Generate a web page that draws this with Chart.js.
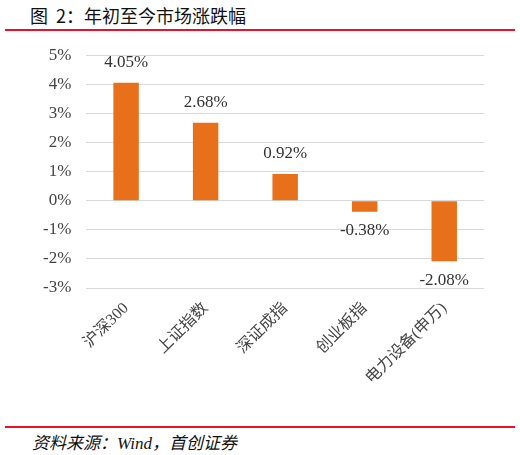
<!DOCTYPE html>
<html lang="zh">
<head>
  <meta charset="UTF-8">
  <title>年初至今市场涨跌幅</title>
  <script src="https://cdn.jsdelivr.net/npm/chart.js@4.4.1/dist/chart.umd.min.js"></script>
  <style>
    html, body { margin: 0; padding: 0; background: #fff; }
    body { width: 520px; height: 455px; position: relative; overflow: hidden; }
    #title { position: absolute; left: 30px; top: 2px; font: 18px "Noto Sans CJK SC", sans-serif; color: #111; white-space: pre; }
    .rule { position: absolute; left: 5px; width: 510px; height: 2px; background: #e8102a; }
    #src { position: absolute; left: 32px; top: 429px; font: italic 17px "Liberation Serif", "Noto Sans CJK SC", serif; color: #111; }
    #wrap { position: absolute; left: 0; top: 30px; width: 520px; height: 390px; }
  </style>
</head>
<body>
  <div id="title">图  2：年初至今市场涨跌幅</div>
  <div class="rule" style="top:29px"></div>
  <div id="wrap"><canvas id="c"></canvas></div>
  <div class="rule" style="top:426px"></div>
  <div id="src">资料来源：Wind，首创证券</div>
  <script>
    const categories = ['沪深300', '上证指数', '深证成指', '创业板指', '电力设备(申万)'];
    const changes = [4.05, 2.68, 0.92, -0.38, -2.08];
    const yTicks = [5, 4, 3, 2, 1, 0, -1, -2, -3];

    const serif = '"Liberation Serif", "Noto Sans CJK SC", serif';

    // value labels above / below each bar
    const valueLabels = {
      id: 'valueLabels',
      afterDatasetsDraw(chart) {
        const ctx = chart.ctx;
        const meta = chart.getDatasetMeta(0);
        ctx.save();
        ctx.font = '17px ' + serif;
        ctx.fillStyle = '#333';
        ctx.textAlign = 'center';
        ctx.textBaseline = 'middle';
        meta.data.forEach((bar, i) => {
          const v = changes[i];
          const y = v >= 0 ? bar.y - 20 : bar.y + 19;
          ctx.fillText(v.toFixed(2) + '%', bar.x, y);
        });
        ctx.restore();
      }
    };

    new Chart(document.getElementById('c'), {
      type: 'bar',
      data: {
        labels: categories,
        datasets: [{
          data: changes,
          backgroundColor: '#e8701a',
          barPercentage: 0.32,
          categoryPercentage: 1
        }]
      },
      options: {
        responsive: true,
        maintainAspectRatio: false,
        animation: false,
        layout: { padding: { left: 28, right: 36, top: 4, bottom: 29 } },
        plugins: { legend: { display: false }, tooltip: { enabled: false } },
        scales: {
          x: {
            grid: { display: false },
            border: { display: false },
            ticks: {
              minRotation: 45, maxRotation: 45,
              color: '#444',
              font: { family: serif, size: 16 }
            }
          },
          y: {
            min: -3, max: 5,
            afterBuildTicks(axis) { axis.ticks = yTicks.map(v => ({ value: v })); },
            grid: { color: '#d9d9d9', drawTicks: false, lineWidth: 1 },
            border: { display: false },
            ticks: {
              padding: 15,
              color: '#444',
              font: { family: serif, size: 17 },
              callback: v => v + '%'
            }
          }
        }
      },
      plugins: [valueLabels]
    });
  </script>
</body>
</html>
